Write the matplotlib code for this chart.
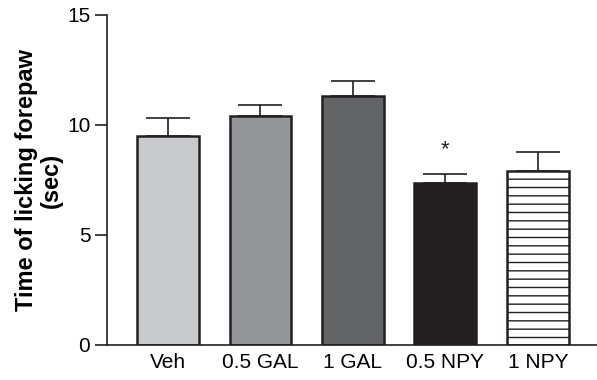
import matplotlib
matplotlib.use("Agg")
import matplotlib.pyplot as plt

plt.rcParams['font.family'] = ['Liberation Sans', 'DejaVu Sans']
plt.rcParams['hatch.linewidth'] = 1.0

categories = ["Veh", "0.5 GAL", "1 GAL", "0.5 NPY", "1 NPY"]
values = [9.5, 10.39, 11.34, 7.36, 7.92]
errors = [0.82, 0.50, 0.68, 0.40, 0.87]
colors = ["#c8c9cb", "#939598", "#636466", "#231f20", "#ffffff"]
hatches = [None, None, None, None, "--"]
yticks = [0, 5, 10, 15]

fig = plt.figure(figsize=(5.97, 3.80), dpi=100)
ax = fig.add_axes([107/597, 35/380, 1 - 107/597, 330/380])

x = list(range(len(categories)))
for i in x:
    ax.bar(i, values[i], width=0.67, color=colors[i], edgecolor="#231f20",
           linewidth=1.8, hatch=hatches[i], zorder=2)
    ax.errorbar(i, values[i], yerr=[[0], [errors[i]]], fmt='none',
                ecolor="#231f20", elinewidth=1.2, capsize=16, capthick=1.2, zorder=1)

ax.text(3, 8.9, "*", ha="center", va="center", fontsize=16, color="#231f20")

ax.set_xlim(-0.66, 4.64)
ax.set_ylim(0, 15)
ax.set_yticks(yticks)
ax.set_yticklabels([str(t) for t in yticks], fontsize=15)
ax.set_xticks(x)
ax.set_xticklabels(categories, fontsize=15)
ax.tick_params(axis='x', length=0, pad=6)
ax.tick_params(axis='y', length=9, width=1.2, color="#231f20", pad=3)
for s in ["top", "right"]:
    ax.spines[s].set_visible(False)
for s in ["left", "bottom"]:
    ax.spines[s].set_linewidth(1.2)
    ax.spines[s].set_color("#231f20")
ax.set_ylabel("Time of licking forepaw\n(sec)", fontsize=17, fontweight="bold",
              labelpad=3, linespacing=1.1)

fig.savefig("out.png", dpi=100)
